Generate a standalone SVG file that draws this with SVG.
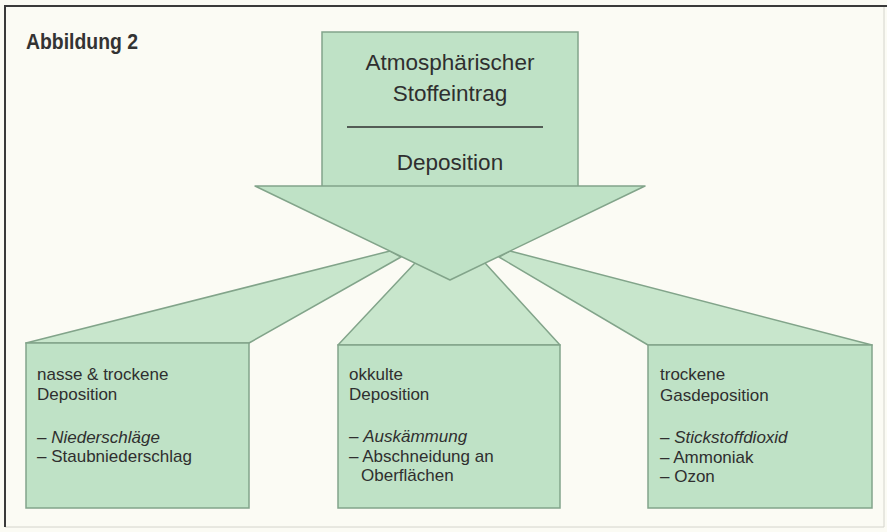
<svg xmlns="http://www.w3.org/2000/svg" width="887" height="532" viewBox="0 0 887 532">
<style>
.bg{fill:#fbfbf4}
.frameD{stroke:#3a3a3a;stroke-width:2;fill:none}
.frameL{stroke:#d4d4cc;stroke-width:1;fill:none}
.box{fill:#bfe2c6;stroke:#82a48a;stroke-width:1.5}
.fan{fill:#c8e6cc;stroke:#82a48a;stroke-width:1.5;stroke-linejoin:round}
.tri{fill:#bfe2c6;stroke:#82a48a;stroke-width:1.5;stroke-linejoin:round}
.title{font-family:"Liberation Sans",Arial,sans-serif;font-weight:bold;font-size:22px;fill:#333}
.big{font-family:"Liberation Sans",Arial,sans-serif;font-size:22.5px;fill:#2f2f2f;text-anchor:middle}
.t{font-family:"Liberation Sans",Arial,sans-serif;font-size:17px;fill:#2f2f2f}
.i{font-style:italic}
</style>
<rect class="bg" x="0" y="0" width="887" height="532"/>
<path class="frameL" d="M884 6 V527 H5"/>
<path class="frameD" d="M5 527 V6 H887"/>
<text class="title" x="26" y="49" textLength="112" lengthAdjust="spacingAndGlyphs">Abbildung 2</text>

<g id="connectors">
  <polygon class="fan" points="26,343 249,343 401,257 390,251"/>
  <polygon class="fan" points="338,345 560,345 485,263 415,263"/>
  <polygon class="fan" points="648,345 872,345 510,251 499,257"/>
</g>

<g id="source">
  <rect class="box" x="322" y="32" width="256" height="155"/>
  <polygon class="tri" points="255,186 645,186 450,280"/>
  <text class="big" x="450" y="70">Atmosphärischer</text>
  <text class="big" x="450" y="101">Stoffeintrag</text>
  <line x1="347" y1="127" x2="543" y2="127" stroke="#2f2f2f" stroke-width="1.5"/>
  <text class="big" x="450" y="170">Deposition</text>
</g>

<g id="node-nass">
  <rect class="box" x="26" y="343" width="223" height="165"/>
  <text class="t" x="37" y="380">nasse &amp; trockene</text>
  <text class="t" x="37" y="400">Deposition</text>
  <text class="t" x="37" y="443">– <tspan class="i">Niederschläge</tspan></text>
  <text class="t" x="37" y="462">– Staubniederschlag</text>
</g>

<g id="node-okkult">
  <rect class="box" x="338" y="345" width="222" height="163"/>
  <text class="t" x="349" y="380">okkulte</text>
  <text class="t" x="349" y="400">Deposition</text>
  <text class="t" x="349" y="442">– <tspan class="i">Auskämmung</tspan></text>
  <text class="t" x="349" y="462">– Abschneidung an</text>
  <text class="t" x="361" y="481">Oberflächen</text>
</g>

<g id="node-gas">
  <rect class="box" x="648" y="345" width="224" height="163"/>
  <text class="t" x="660" y="380">trockene</text>
  <text class="t" x="660" y="401">Gasdeposition</text>
  <text class="t" x="660" y="443">– <tspan class="i">Stickstoffdioxid</tspan></text>
  <text class="t" x="660" y="463">– Ammoniak</text>
  <text class="t" x="660" y="482">– Ozon</text>
</g>
</svg>
